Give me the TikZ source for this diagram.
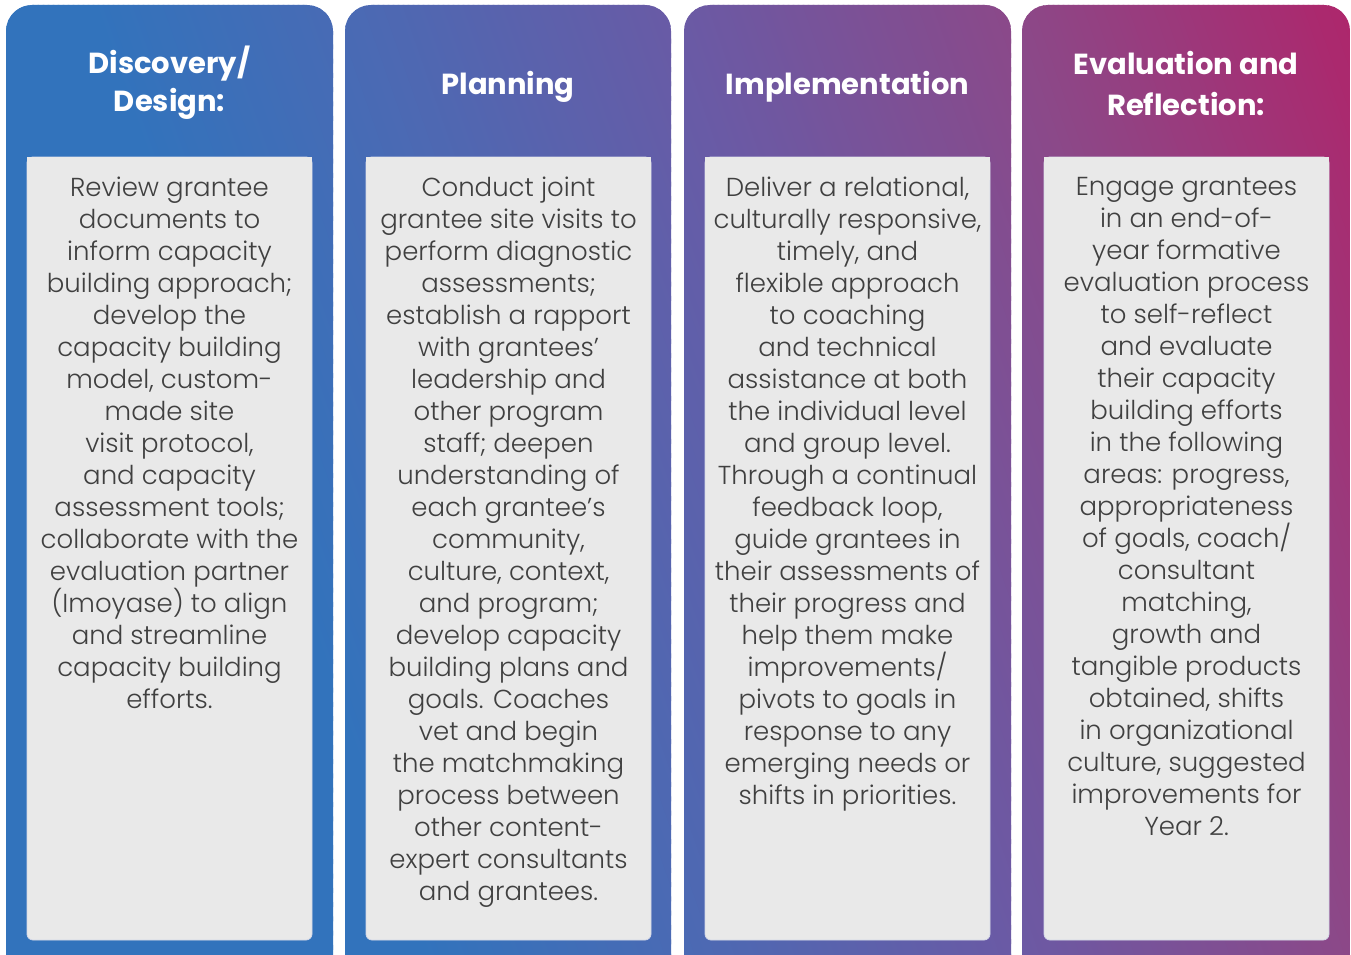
\documentclass[tikz,border=0pt]{standalone}
\usepackage{fontspec}
\setmainfont{Poppins}
\newfontfamily\bodyfont{Poppins Light}
\definecolor{g0}{HTML}{3273BC}
\definecolor{g1}{HTML}{4A6AB4}
\definecolor{g2}{HTML}{6A5AA5}
\definecolor{g3}{HTML}{8C4888}
\definecolor{g4}{HTML}{B0246A}
\definecolor{panel}{HTML}{E9E9E9}
\definecolor{panelline}{HTML}{D4D8E8}
\definecolor{bodytext}{HTML}{404040}
\tikzset{
  headtext/.style={text=white, font=\bfseries\fontsize{29}{38}\selectfont, align=center, inner sep=0pt},
  bodytxt/.style={text=bodytext, font=\bodyfont\fontsize{26}{32}\selectfont, align=center, inner sep=0pt, anchor=north},
  panelbox/.style={fill=panel, draw=panelline, line width=0.8pt},
}
\begin{document}
\begin{tikzpicture}[x=1pt,y=-1pt]
\useasboundingbox (0,0) rectangle (1351,955);
\clip (0,0) rectangle (1351,955);
% gradient columns
\begin{scope}
  \clip[rounded corners=26] (6,5) rectangle (333,990)
        (345,5) rectangle (671,990)
        (684,5) rectangle (1011,990)
        (1022,5) rectangle (1350,990);
  \foreach \a/\b/\ca/\cb in {0/420/g0/g0, 420/680/g0/g1, 680/1010/g1/g2, 1010/1350/g2/g3, 1350/1700/g3/g4}{
    \pgfmathtruncatemacro\n{(\b-\a)/5}
    \pgfmathsetmacro\s{(\b-\a)/\n}
    \foreach \i in {1,...,\n}{
      \pgfmathsetmacro\ta{\a+(\i-1)*\s}
      \pgfmathsetmacro\tb{\a+\i*\s+1.5}
      \pgfmathtruncatemacro\p{100*(\i-0.5)/\n}
      \fill[fill=\cb!\p!\ca] (\ta,955) -- (\tb,955) -- (\tb-334,0) -- (\ta-334,0) -- cycle;
    }
  }
\end{scope}
% inner panels
\foreach \x in {27,366,705,1044}{
  \path[panelbox, rounded corners=6] (\x,157) rectangle (\x+285,940);
  \fill[panel] (\x+0.4,157.4) rectangle (\x+284.6,180);
}
% headers
\node[headtext] (h1) at (169.5,83) {Discovery/\\Design:};
\node[headtext] (h2) at (508,87) {Planning};
\node[headtext] (h3) at (847.5,87) {Implementation};
\node[headtext, font=\bfseries\fontsize{29}{41}\selectfont] (h4) at (1186,84) {Evaluation and\\Reflection:};
% body texts
\node[bodytxt] (b1) at (169.5,177) {Review grantee\\documents to\\inform capacity\\building approach;\\develop the\\capacity building\\model, custom-\\made site\\visit protocol,\\and capacity\\assessment tools;\\collaborate with the\\evaluation partner\\(Imoyase) to align\\and streamline\\capacity building\\efforts.};
\node[bodytxt] (b2) at (508.5,177) {Conduct joint\\grantee site visits to\\perform diagnostic\\assessments;\\establish a rapport\\with grantees’\\leadership and\\other program\\staff; deepen\\understanding of\\each grantee’s\\community,\\culture, context,\\and program;\\develop capacity\\building plans and\\goals. Coaches\\vet and begin\\the matchmaking\\process between\\other content-\\expert consultants\\and grantees.};
\node[bodytxt] (b3) at (847.5,177) {Deliver a relational,\\culturally responsive,\\timely, and\\flexible approach\\to coaching\\and technical\\assistance at both\\the individual level\\and group level.\\Through a continual\\feedback loop,\\guide grantees in\\their assessments of\\their progress and\\help them make\\improvements/\\pivots to goals in\\response to any\\emerging needs or\\shifts in priorities.};
\node[bodytxt] (b4) at (1186.5,177) {Engage grantees\\in an end-of-\\year formative\\evaluation process\\to self-reflect\\and evaluate\\their capacity\\building efforts\\in the following\\areas: progress,\\appropriateness\\of goals, coach/\\consultant\\matching,\\growth and\\tangible products\\obtained, shifts\\in organizational\\culture, suggested\\improvements for\\Year 2.};
\end{tikzpicture}
\end{document}
